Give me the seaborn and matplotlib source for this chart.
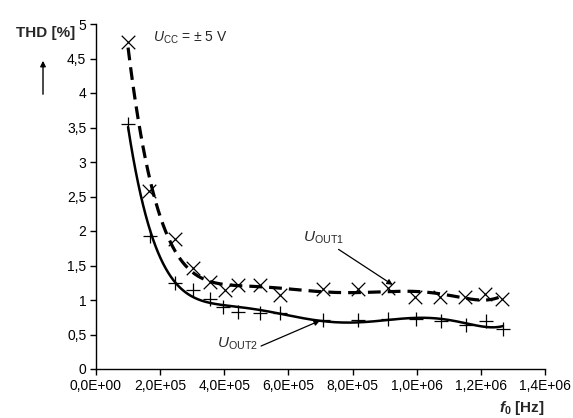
import numpy as np
import pandas as pd
import matplotlib
matplotlib.use("Agg")
import matplotlib.pyplot as plt
import seaborn as sns
from matplotlib.ticker import FixedLocator, FuncFormatter

# ---- data ----
f_out1 = [1.0e5, 1.65e5, 2.46e5, 3.03e5, 3.57e5, 4.02e5, 4.43e5, 5.11e5, 5.75e5,
          7.08e5, 8.17e5, 9.1e5, 9.95e5, 1.072e6, 1.15e6, 1.212e6, 1.265e6]
thd_out1 = [4.74, 2.58, 1.88, 1.46, 1.26, 1.145, 1.22, 1.22, 1.07,
            1.16, 1.16, 1.17, 1.04, 1.04, 1.05, 1.08, 1.01]

f_out2 = [1.0e5, 1.67e5, 2.47e5, 3.03e5, 3.57e5, 3.97e5, 4.43e5, 5.11e5, 5.75e5,
          7.08e5, 8.17e5, 9.1e5, 9.97e5, 1.077e6, 1.153e6, 1.215e6, 1.269e6]
thd_out2 = [3.55, 1.93, 1.25, 1.145, 1.02, 0.90, 0.83, 0.81, 0.81,
            0.71, 0.71, 0.72, 0.72, 0.69, 0.64, 0.70, 0.58]

y_ticks = [0, 0.5, 1, 1.5, 2, 2.5, 3, 3.5, 4, 4.5, 5]
x_ticks = [0, 2e5, 4e5, 6e5, 8e5, 1.0e6, 1.2e6, 1.4e6]

sns.set_theme(style="white")
plt.rcParams["font.family"] = ["Liberation Sans", "DejaVu Sans"]
plt.rcParams["mathtext.fontset"] = "custom"
plt.rcParams["mathtext.rm"] = "Liberation Sans"
plt.rcParams["mathtext.it"] = "Liberation Sans:italic"
plt.rcParams["mathtext.bf"] = "Liberation Sans:bold"
plt.rcParams["mathtext.bfit"] = "Liberation Sans:italic:bold"

fig = plt.figure(figsize=(5.73, 4.18), dpi=100)
ax = fig.add_axes([96 / 573, 1 - 369 / 418, (545 - 96) / 573, (369 - 24) / 418])


def trend(fx, ty, deg=6):
    xs = np.asarray(fx) / 1e6
    c = np.polyfit(xs, np.asarray(ty), deg)
    grid = np.linspace(xs.min(), xs.max(), 300)
    return pd.DataFrame({"f": grid * 1e6, "thd": np.polyval(c, grid)})


t1 = trend(f_out1, thd_out1)
t2 = trend(f_out2, thd_out2)

sns.lineplot(data=t1, x="f", y="thd", ax=ax, color="black", lw=2.3,
             linestyle=(0, (4, 2.2)), sort=False)
sns.lineplot(data=t2, x="f", y="thd", ax=ax, color="black", lw=1.8, sort=False)

d1 = pd.DataFrame({"f": f_out1, "thd": thd_out1})
d2 = pd.DataFrame({"f": f_out2, "thd": thd_out2})
sns.scatterplot(data=d1, x="f", y="thd", ax=ax, marker="x", s=95,
                color="black", linewidth=0.9, zorder=5)
sns.scatterplot(data=d2, x="f", y="thd", ax=ax, marker="+", s=105,
                color="black", linewidth=0.9, zorder=5)

ax.set_xlim(0, 1.4e6)
ax.set_ylim(0, 5)
ax.xaxis.set_major_locator(FixedLocator(x_ticks))
ax.yaxis.set_major_locator(FixedLocator(y_ticks))


def yfmt(v, p):
    return ("%g" % v).replace(".", ",")


def xfmt(v, p):
    return ("%.1E" % v).replace(".", ",")


ax.yaxis.set_major_formatter(FuncFormatter(yfmt))
ax.xaxis.set_major_formatter(FuncFormatter(xfmt))
ax.tick_params(axis="both", which="major", direction="out", length=4, width=1,
               color="black", labelsize=10, labelcolor="black", pad=3,
               bottom=True, left=True)
for s in ["top", "right"]:
    ax.spines[s].set_visible(False)
for s in ["left", "bottom"]:
    ax.spines[s].set_color("black")
    ax.spines[s].set_linewidth(1)
ax.set_xlabel("")
ax.set_ylabel("")

# annotations
ax.text(1.78e5, 4.8, r"$U_{\rm CC}$ = ± 5 V", fontsize=10, va="center", ha="left")
ax.annotate(r"$U_{\rm OUT1}$", xy=(9.25e5, 1.22), xytext=(6.45e5, 1.9),
            fontsize=11, va="center", ha="left",
            arrowprops=dict(arrowstyle="-|>", color="black", lw=0.9,
                            mutation_scale=8, shrinkA=0, shrinkB=0,
                            relpos=(0.75, 0.0)))
ax.annotate(r"$U_{\rm OUT2}$", xy=(6.98e5, 0.70), xytext=(3.77e5, 0.36),
            fontsize=11, va="center", ha="left",
            arrowprops=dict(arrowstyle="-|>", color="black", lw=0.9,
                            mutation_scale=8, shrinkA=0, shrinkB=0,
                            relpos=(1.0, 0.3)))

fig.text(16 / 573, 1 - 33 / 418, "THD [%]", fontsize=11, fontweight="bold",
         ha="left", va="center")
fig.add_artist(matplotlib.patches.FancyArrowPatch(
    (43 / 573, 1 - 97 / 418), (43 / 573, 1 - 58 / 418),
    transform=fig.transFigure, arrowstyle="-|>", mutation_scale=8,
    color="black", lw=1))
fig.text(545 / 573, 1 - 408 / 418, r"$\mathbfit{f}_{\mathbf{0}}$ [Hz]",
         fontsize=11, fontweight="bold", ha="right", va="center")

fig.savefig("out.png", dpi=100)
